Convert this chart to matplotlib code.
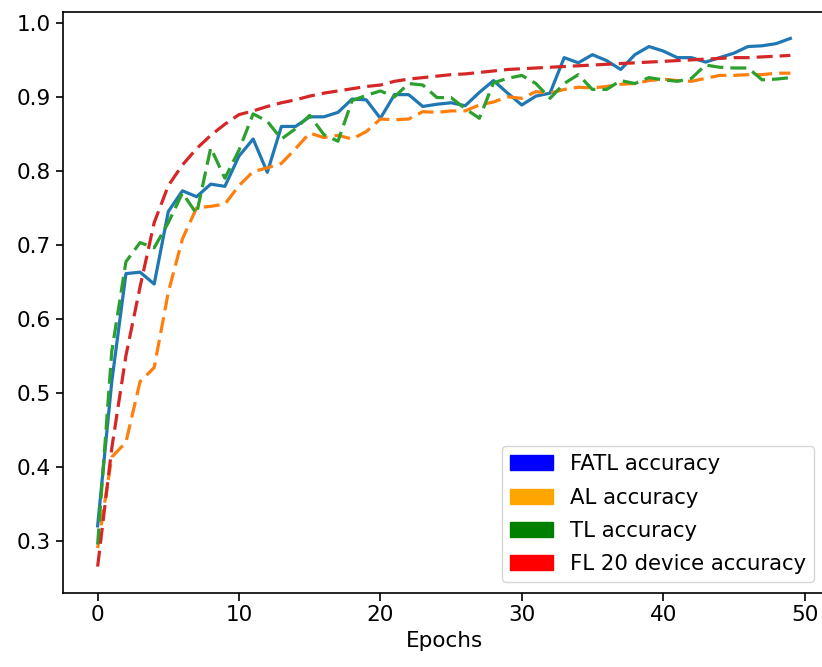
import matplotlib
matplotlib.use("Agg")
import matplotlib.pyplot as plt
import matplotlib.patches as mpatches
import numpy as np

epochs = list(range(50))

fatl_acc = [0.320, 0.515, 0.661, 0.663, 0.647, 0.745, 0.773, 0.765, 0.782, 0.779,
            0.820, 0.843, 0.798, 0.860, 0.860, 0.873, 0.873, 0.879, 0.897, 0.896,
            0.871, 0.903, 0.903, 0.887, 0.890, 0.892, 0.888, 0.906, 0.922, 0.905,
            0.889, 0.901, 0.905, 0.953, 0.946, 0.957, 0.949, 0.937, 0.957, 0.968,
            0.962, 0.953, 0.953, 0.947, 0.953, 0.959, 0.968, 0.969, 0.972, 0.979]

al_acc = [0.290, 0.413, 0.433, 0.515, 0.534, 0.636, 0.708, 0.750, 0.752, 0.755,
          0.780, 0.799, 0.804, 0.810, 0.830, 0.851, 0.845, 0.848, 0.843, 0.853,
          0.870, 0.869, 0.870, 0.880, 0.879, 0.881, 0.881, 0.889, 0.893, 0.900,
          0.898, 0.907, 0.905, 0.910, 0.913, 0.912, 0.914, 0.917, 0.918, 0.922,
          0.924, 0.922, 0.921, 0.925, 0.929, 0.929, 0.930, 0.930, 0.932, 0.932]

tl_acc = [0.295, 0.556, 0.677, 0.703, 0.696, 0.730, 0.770, 0.742, 0.831, 0.790,
          0.828, 0.877, 0.867, 0.843, 0.857, 0.875, 0.849, 0.840, 0.895, 0.902,
          0.908, 0.900, 0.918, 0.916, 0.899, 0.899, 0.884, 0.871, 0.919, 0.925,
          0.929, 0.918, 0.898, 0.918, 0.930, 0.910, 0.910, 0.922, 0.918, 0.926,
          0.923, 0.921, 0.925, 0.943, 0.940, 0.939, 0.939, 0.923, 0.924, 0.926]

fl_acc = [0.265, 0.425, 0.550, 0.643, 0.730, 0.780, 0.808, 0.830, 0.848, 0.863,
          0.876, 0.881, 0.887, 0.892, 0.896, 0.901, 0.905, 0.908, 0.911, 0.914,
          0.916, 0.921, 0.924, 0.926, 0.928, 0.930, 0.931, 0.933, 0.935, 0.937,
          0.938, 0.939, 0.940, 0.941, 0.942, 0.943, 0.944, 0.945, 0.946, 0.947,
          0.948, 0.949, 0.950, 0.951, 0.952, 0.953, 0.953, 0.954, 0.955, 0.956]

legend_labels = ["FATL accuracy", "AL accuracy", "TL accuracy", "FL 20 device accuracy"]
legend_colors = ["blue", "orange", "green", "red"]

plt.rcParams['font.family'] = ['DejaVu Sans']
fs = 15.5

fig = plt.figure(figsize=(8.22, 6.67), dpi=100)
ax = fig.add_axes([63/822, 74/667, 762/822, 581/667])

lw = 2.3
dash = (5.0, 2.2)
ax.plot(epochs, fatl_acc, color="tab:blue", lw=lw)
ax.plot(epochs, al_acc, color="tab:orange", lw=lw, linestyle="--", dashes=dash)
ax.plot(epochs, tl_acc, color="tab:green", lw=lw, linestyle="--", dashes=dash)
ax.plot(epochs, fl_acc, color="tab:red", lw=lw, linestyle="--", dashes=dash)

ax.set_xlabel("Epochs", fontsize=fs)
ax.tick_params(labelsize=fs, length=5.4, width=1.2)
for sp in ax.spines.values():
    sp.set_linewidth(1.2)

handles = [mpatches.Patch(color=c, label=l) for c, l in zip(legend_colors, legend_labels)]
leg = ax.legend(handles=handles, loc="lower right", fontsize=15.3,
                labelspacing=0.62, borderaxespad=0.5)

fig.savefig("out.png", dpi=100)
